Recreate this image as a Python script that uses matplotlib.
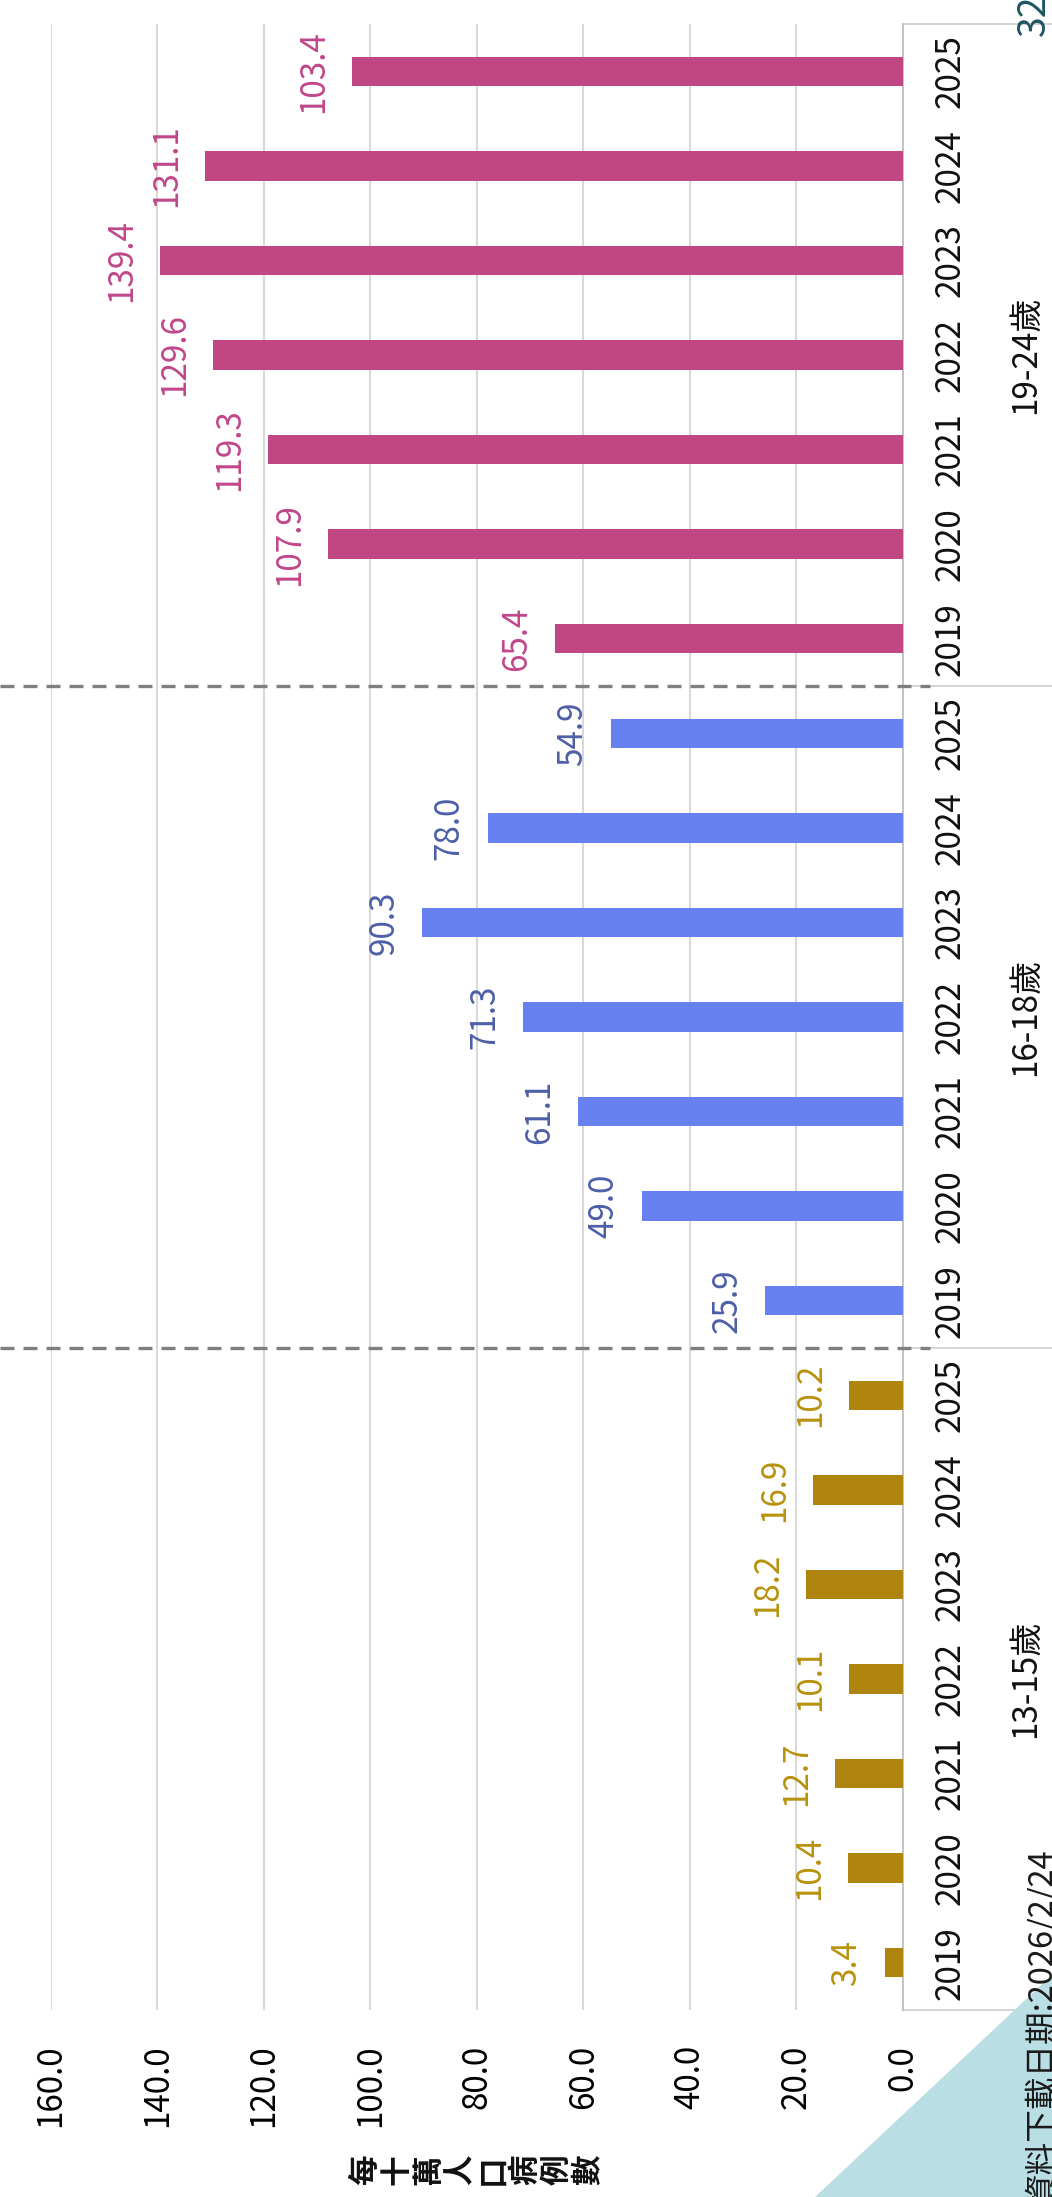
"""Age-group incidence per 100k, drawn as a rotated (sideways) bar chart."""

import matplotlib

matplotlib.use("Agg")
import matplotlib.pyplot as plt
import matplotlib.transforms as mtransforms
from matplotlib.patches import Polygon

plt.rcParams["font.family"] = ["Noto Sans CJK TC", "DejaVu Sans"]

# ---- data -------------------------------------------------------------
years = ["2019", "2020", "2021", "2022", "2023", "2024", "2025"]
groups = ["13-15歲", "16-18歲", "19-24歲"]
rate_13_15 = [3.4, 10.4, 12.7, 10.1, 18.2, 16.9, 10.2]
rate_16_18 = [25.9, 49.0, 61.1, 71.3, 90.3, 78.0, 54.9]
rate_19_24 = [65.4, 107.9, 119.3, 129.6, 139.4, 131.1, 103.4]
value_ticks = [0, 20, 40, 60, 80, 100, 120, 140, 160]
y_title = "每十萬人口病例數"
source_note = "資料下載日期:2026/2/24"
page_no = "32"

series = [rate_13_15, rate_16_18, rate_19_24]
bar_colors = ["#B0850F", "#6881F0", "#C04684"]
label_colors = ["#B8920E", "#4D5FA8", "#C0468A"]

# ---- layout (pixels of the 1052x2197 output) --------------------------
W, H = 1052, 2197
X160, X0 = 50.7, 903.0          # value axis: 160 at left, 0 at right
Y_TOP, Y_BOT = 24.0, 2010.0     # top / bottom of the plot box
FS = 24

fig = plt.figure(figsize=(W / 100, H / 100), dpi=100)
ax = fig.add_axes([X160 / W, (H - Y_BOT) / H, (X0 - X160) / W, (Y_BOT - Y_TOP) / H])

n_years = len(years)
for g, vals in enumerate(series):
    pos = [g * n_years + i for i in range(n_years)]
    ax.barh(pos, vals, height=0.31, color=bar_colors[g], zorder=3)
    for p, v in zip(pos, vals):
        ax.annotate(f"{v:.1f}", xy=(v, p), xytext=(-15, 0), textcoords="offset points",
                    rotation=90, ha="right", va="center", fontsize=FS,
                    color=label_colors[g], zorder=4)

n_cat = n_years * len(groups)
ax.set_ylim(-0.5, n_cat - 0.5)
ax.set_xlim(max(value_ticks), 0)
ax.set_xticks(value_ticks)
ax.set_xticklabels([f"{t:.1f}" for t in value_ticks])
ax.tick_params(axis="x", length=0, pad=25, labelsize=FS, labelrotation=90)
ax.set_yticks([])
ax.grid(axis="x", color="#D9D9D9", linewidth=1.5, zorder=0)
for side in ["left", "top", "bottom"]:
    ax.spines[side].set_visible(False)
ax.spines["right"].set_color("#BFBFBF")
ax.spines["right"].set_linewidth(1.3)

# category axis, drawn to the right of the plot box
blend = mtransforms.blended_transform_factory(fig.transFigure, ax.transData)
for g, grp in enumerate(groups):
    for i, yr in enumerate(years):
        ax.text(950 / W, g * n_years + i, yr, transform=blend, rotation=90,
                ha="center", va="center", fontsize=FS, color="#111111")
    ax.text(1025 / W, g * n_years + (n_years - 1) / 2, grp, transform=blend,
            rotation=90, ha="center", va="center", fontsize=FS, color="#111111")

edges = [-0.5, n_cat - 0.5] + [g * n_years - 0.5 for g in range(1, len(groups))]
for e in edges:
    ax.plot([X0 / W, 1.0], [e, e], transform=blend, color="#D0D0D0",
            linewidth=1.3, clip_on=False, zorder=2)
for g in range(1, len(groups)):
    e = g * n_years - 0.5
    ax.plot([0.0, 930 / W], [e, e], transform=blend, color="#7F7F7F",
            linewidth=2.4, dashes=(4.2, 2.7), clip_on=False, zorder=5)

# value axis title: stacked characters, turned with the chart
step = 32
start = (X160 + X0) / 2 - step * (len(y_title) - 1) / 2
for k, ch in enumerate(y_title):
    fig.text((start + k * step) / W, (H - 2170) / H, ch, rotation=90,
             ha="center", va="center", fontsize=22, fontweight="bold", color="#111111")

# corner decoration and notes
fig.add_artist(Polygon([[815 / W, 0.0], [1.0, 0.0], [1.0, (H - 1975) / H]],
                       closed=True, transform=fig.transFigure,
                       facecolor="#B9DEE3", edgecolor="none", zorder=1))
fig.text(1058 / W, (H - 1848) / H, source_note, rotation=90, ha="right", va="top",
         fontsize=23.5, color="#1A1A1A", zorder=3)
fig.text(1015 / W, (H - 36) / H, page_no, rotation=90, ha="left", va="bottom",
         fontsize=27, color="#1D5561")

fig.savefig("out.png", dpi=100)
